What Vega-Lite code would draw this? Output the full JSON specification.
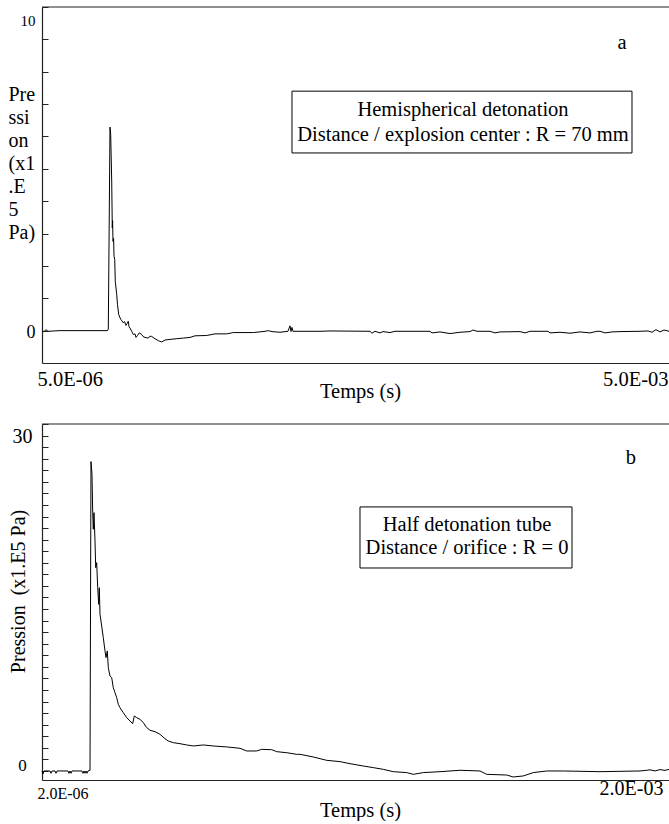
{
  "$schema": "https://vega.github.io/schema/vega-lite/v6.json",
  "padding": {"left": 8, "top": 6, "right": 0, "bottom": 0},
  "spacing": 61,
  "bounds": "flush",
  "config": {
    "font": "Liberation Serif",
    "view": {"stroke": null},
    "axis": {"labelColor": "black", "titleColor": "black", "titleFontWeight": "normal", "grid": false, "domainColor": "#222", "tickColor": "#222", "domainWidth": 1.2, "labelOverlap": false}
  },
  "datasets": {
    "a": [
      {"t": 0.000005, "p": 0}, {"t": 0.0000209, "p": -0.03}, {"t": 0.0000369, "p": 0.03}, {"t": 0.0000528, "p": -0.02},
      {"t": 0.0001484, "p": 0}, {"t": 0.0003077, "p": 0}, {"t": 0.0004671, "p": 0}, {"t": 0.0005268, "p": 0},
      {"t": 0.0005332, "p": 0.05}, {"t": 0.0005467, "p": 6.29}, {"t": 0.0005523, "p": 6.06}, {"t": 0.0005603, "p": 4.62},
      {"t": 0.000565, "p": 3.17}, {"t": 0.0005674, "p": 3.4}, {"t": 0.0005706, "p": 2.76}, {"t": 0.0005754, "p": 2.85},
      {"t": 0.0005786, "p": 2.3}, {"t": 0.0005842, "p": 2.2}, {"t": 0.0005889, "p": 1.52}, {"t": 0.0006001, "p": 1.12},
      {"t": 0.0006065, "p": 0.8}, {"t": 0.000616, "p": 0.5}, {"t": 0.000632, "p": 0.35}, {"t": 0.0006423, "p": 0.3},
      {"t": 0.0006527, "p": 0.24}, {"t": 0.0006622, "p": 0.28}, {"t": 0.0006742, "p": 0.16}, {"t": 0.0006822, "p": 0.22},
      {"t": 0.0006925, "p": 0.29}, {"t": 0.0006981, "p": 0.12}, {"t": 0.0007061, "p": 0.08}, {"t": 0.0007196, "p": -0.02},
      {"t": 0.0007323, "p": -0.12}, {"t": 0.0007459, "p": -0.1}, {"t": 0.0007539, "p": -0.21}, {"t": 0.0007658, "p": -0.15},
      {"t": 0.0007801, "p": -0.07}, {"t": 0.0007993, "p": -0.12}, {"t": 0.0008096, "p": -0.18}, {"t": 0.0008256, "p": -0.21},
      {"t": 0.0008518, "p": -0.23}, {"t": 0.0008654, "p": -0.17}, {"t": 0.0008789, "p": -0.18}, {"t": 0.0009052, "p": -0.25},
      {"t": 0.0009315, "p": -0.31}, {"t": 0.0009586, "p": -0.35}, {"t": 0.0009849, "p": -0.29}, {"t": 0.0010247, "p": -0.27},
      {"t": 0.0010781, "p": -0.25}, {"t": 0.0011307, "p": -0.23}, {"t": 0.001184, "p": -0.21}, {"t": 0.0012239, "p": -0.16},
      {"t": 0.0013171, "p": -0.15}, {"t": 0.0013832, "p": -0.1}, {"t": 0.0014764, "p": -0.1}, {"t": 0.001529, "p": -0.06},
      {"t": 0.0016883, "p": -0.06}, {"t": 0.0017815, "p": -0.02}, {"t": 0.0018078, "p": 0.0}, {"t": 0.0018373, "p": -0.03},
      {"t": 0.001901, "p": -0.05}, {"t": 0.0019648, "p": -0.02}, {"t": 0.0019807, "p": 0.15}, {"t": 0.0019887, "p": -0.03},
      {"t": 0.0019966, "p": 0.1}, {"t": 0.0020046, "p": -0.02}, {"t": 0.0020604, "p": -0.02}, {"t": 0.0022197, "p": -0.02},
      {"t": 0.0022994, "p": -0.01}, {"t": 0.002618, "p": -0.02}, {"t": 0.0026339, "p": -0.08}, {"t": 0.0026578, "p": -0.02},
      {"t": 0.0026977, "p": -0.07}, {"t": 0.0027216, "p": -0.03}, {"t": 0.0027773, "p": -0.06}, {"t": 0.0028172, "p": -0.02},
      {"t": 0.0028809, "p": -0.02}, {"t": 0.003096, "p": -0.02}, {"t": 0.0031119, "p": -0.07}, {"t": 0.0031757, "p": -0.04},
      {"t": 0.0032553, "p": -0.09}, {"t": 0.003335, "p": -0.05}, {"t": 0.0034147, "p": -0.03}, {"t": 0.0034386, "p": 0.02},
      {"t": 0.0034704, "p": -0.02}, {"t": 0.003574, "p": -0.02}, {"t": 0.0036138, "p": -0.07}, {"t": 0.0036537, "p": -0.04},
      {"t": 0.003813, "p": -0.03}, {"t": 0.0038528, "p": -0.07}, {"t": 0.0038927, "p": -0.02}, {"t": 0.0040361, "p": -0.02},
      {"t": 0.004052, "p": -0.07}, {"t": 0.0041317, "p": -0.05}, {"t": 0.0042113, "p": -0.08}, {"t": 0.004291, "p": -0.04},
      {"t": 0.0043706, "p": -0.07}, {"t": 0.0044264, "p": -0.02}, {"t": 0.0044503, "p": -0.02}, {"t": 0.0044901, "p": -0.07},
      {"t": 0.0045459, "p": -0.04}, {"t": 0.0046096, "p": -0.03}, {"t": 0.004769, "p": -0.02}, {"t": 0.0048327, "p": -0.01},
      {"t": 0.0048646, "p": -0.05}, {"t": 0.0048964, "p": 0.03}, {"t": 0.0049283, "p": -0.04}, {"t": 0.0049602, "p": 0.02},
      {"t": 0.005, "p": -0.02}
    ],
    "b": [
      {"t": 0.000002, "p": 0}, {"t": 0.00000519, "p": -0.25}, {"t": 0.00000837, "p": 0}, {"t": 0.00002749, "p": 0},
      {"t": 0.00003068, "p": -0.2}, {"t": 0.00003387, "p": 0}, {"t": 0.00004343, "p": 0}, {"t": 0.00004661, "p": -0.2},
      {"t": 0.0000498, "p": 0}, {"t": 0.00008485, "p": 0}, {"t": 0.00008804, "p": -0.2}, {"t": 0.00009122, "p": 0},
      {"t": 0.00009441, "p": -0.2}, {"t": 0.0000976, "p": 0}, {"t": 0.00012946, "p": 0}, {"t": 0.00013265, "p": -0.2},
      {"t": 0.00013584, "p": 0}, {"t": 0.00013902, "p": -0.2}, {"t": 0.00014221, "p": 0}, {"t": 0.0001454, "p": -0.2},
      {"t": 0.00014858, "p": 0}, {"t": 0.000155, "p": 0.05}, {"t": 0.0001581, "p": 26.75}, {"t": 0.0001613, "p": 25.65},
      {"t": 0.0001636, "p": 22.34}, {"t": 0.0001655, "p": 20.9}, {"t": 0.0001677, "p": 22.34}, {"t": 0.0001709, "p": 19.89},
      {"t": 0.0001731, "p": 17.58}, {"t": 0.0001763, "p": 18.01}, {"t": 0.0001795, "p": 15.85}, {"t": 0.0001827, "p": 14.41},
      {"t": 0.0001846, "p": 15.85}, {"t": 0.0001868, "p": 13.55}, {"t": 0.0001922, "p": 12.54}, {"t": 0.0001973, "p": 11.53},
      {"t": 0.0002028, "p": 10.38}, {"t": 0.0002059, "p": 9.8}, {"t": 0.0002101, "p": 10.38}, {"t": 0.0002133, "p": 8.93},
      {"t": 0.0002187, "p": 8.21}, {"t": 0.0002241, "p": 8.07}, {"t": 0.0002292, "p": 7.2}, {"t": 0.0002346, "p": 6.77},
      {"t": 0.00024, "p": 6.34}, {"t": 0.0002451, "p": 5.77}, {"t": 0.0002506, "p": 5.47}, {"t": 0.0002611, "p": 5.04},
      {"t": 0.0002719, "p": 4.61}, {"t": 0.0002824, "p": 4.32}, {"t": 0.000291, "p": 4.09}, {"t": 0.0002961, "p": 4.76},
      {"t": 0.0003038, "p": 4.61}, {"t": 0.0003143, "p": 4.47}, {"t": 0.0003248, "p": 4.18}, {"t": 0.0003356, "p": 3.75},
      {"t": 0.0003462, "p": 3.52}, {"t": 0.0003621, "p": 3.4}, {"t": 0.000378, "p": 3.17}, {"t": 0.000394, "p": 2.79},
      {"t": 0.0004045, "p": 2.59}, {"t": 0.0004204, "p": 2.45}, {"t": 0.0004418, "p": 2.36}, {"t": 0.0004631, "p": 2.25},
      {"t": 0.0004841, "p": 2.16}, {"t": 0.000516, "p": 2.25}, {"t": 0.0005479, "p": 2.16}, {"t": 0.0005906, "p": 2.08},
      {"t": 0.000633, "p": 1.96}, {"t": 0.0006543, "p": 1.73}, {"t": 0.0006862, "p": 1.73}, {"t": 0.0007021, "p": 1.87},
      {"t": 0.000734, "p": 1.84}, {"t": 0.0007499, "p": 1.67}, {"t": 0.0007818, "p": 1.58}, {"t": 0.0008136, "p": 1.44},
      {"t": 0.0008241, "p": 1.44}, {"t": 0.0008665, "p": 1.21}, {"t": 0.0009092, "p": 0.92}, {"t": 0.0009516, "p": 0.81},
      {"t": 0.0009835, "p": 0.63}, {"t": 0.0010258, "p": 0.43}, {"t": 0.0010577, "p": 0.29}, {"t": 0.0010896, "p": 0.14},
      {"t": 0.0011215, "p": -0.06}, {"t": 0.0011641, "p": -0.14}, {"t": 0.0011852, "p": -0.29}, {"t": 0.001217, "p": -0.14},
      {"t": 0.0012703, "p": -0.06}, {"t": 0.001334, "p": 0.06}, {"t": 0.0013977, "p": 0}, {"t": 0.0014191, "p": -0.29},
      {"t": 0.0014828, "p": -0.35}, {"t": 0.0015038, "p": -0.52}, {"t": 0.0015357, "p": -0.43}, {"t": 0.0015676, "p": -0.14},
      {"t": 0.0016103, "p": 0}, {"t": 0.0016632, "p": 0}, {"t": 0.0017801, "p": -0.06}, {"t": 0.0019076, "p": 0},
      {"t": 0.0019289, "p": 0.06}, {"t": 0.0019395, "p": 0.1}, {"t": 0.0019554, "p": 0}, {"t": 0.0019713, "p": 0.12},
      {"t": 0.0019873, "p": 0.05}, {"t": 0.002, "p": 0.14}
    ]
  },
  "vconcat": [
    {
      "width": 627,
      "height": 356,
      "layer": [
        {
          "data": {"name": "a"},
          "mark": {"type": "line", "color": "black", "strokeWidth": 1},
          "encoding": {
            "x": {
              "field": "t", "type": "quantitative",
              "scale": {"domain": [0.000005, 0.005], "nice": false, "zero": false},
              "axis": {
                "values": [0.000005, 0.005],
                "labelExpr": "datum.value < 0.001 ? '5.0E-06' : '5.0E-03'",
                "ticks": false, "labelFlush": true, "labelFontSize": 20.5, "labelPadding": 6, "labelBaseline": "top",
                "labelOffset": {"condition": {"test": "datum.value < 0.001", "value": -5}, "value": -1},
                "title": "Temps (s)", "titleFontSize": 20.5, "titleX": 318, "titleY": 18, "titleBaseline": "top", "titleAlign": "center"
              }
            },
            "y": {
              "field": "p", "type": "quantitative",
              "scale": {"domain": [-1, 10], "nice": false, "zero": false},
              "axis": {
                "values": [0, 1, 2, 3, 4, 5, 6, 7, 8, 9, 10],
                "tickCount": 100,
                "labelExpr": "datum.value == 0 ? '0' : (datum.value == 10 ? '10' : '')",
                "tickSize": -6, "tickWidth": 1, "labelPadding": 13, "labelAlign": "right", "labelBaseline": "middle",
                "labelFontSize": {"condition": {"test": "datum.value == 10", "value": 15}, "value": 18},
                "labelOffset": {"condition": {"test": "datum.value == 10", "value": 13}, "value": 2},
                "title": ["Pre", "ssi", "on", "(x1", ".E", "5", "Pa)"],
                "titleAngle": 0, "titleAlign": "left", "titleBaseline": "top", "titleX": -34, "titleY": 77,
                "titleFontSize": 20, "titleLineHeight": 23
              }
            }
          }
        },
        {
          "data": {"values": [{}]},
          "mark": {"type": "rule", "color": "#222", "strokeWidth": 1.2},
          "encoding": {"y": {"datum": 10}}
        },
        {
          "data": {"values": [{}]},
          "mark": {"type": "rect", "fill": "white", "stroke": "black", "strokeWidth": 1},
          "encoding": {"x": {"datum": 0.0019966}, "x2": {"datum": 0.0047052}, "y": {"datum": 7.4}, "y2": {"datum": 5.49}}
        },
        {
          "data": {"values": [{}]},
          "mark": {"type": "text", "text": ["Hemispherical detonation", "Distance / explosion center : R = 70 mm"], "align": "center", "baseline": "middle", "fontSize": 20.5, "lineHeight": 25, "color": "black"},
          "encoding": {"x": {"datum": 0.0033589}, "y": {"datum": 6.83}}
        },
        {
          "data": {"values": [{}]},
          "mark": {"type": "text", "text": "a", "align": "center", "baseline": "middle", "fontSize": 20.5, "color": "black"},
          "encoding": {"x": {"datum": 0.0046256}, "y": {"datum": 8.89}}
        }
      ]
    },
    {
      "width": 627,
      "height": 356,
      "layer": [
        {
          "data": {"name": "b"},
          "mark": {"type": "line", "color": "black", "strokeWidth": 1},
          "encoding": {
            "x": {
              "field": "t", "type": "quantitative",
              "scale": {"domain": [0.000002, 0.002], "nice": false, "zero": false},
              "axis": {
                "values": [0.000002, 0.002],
                "labelExpr": "datum.value < 0.001 ? '2.0E-06' : '2.0E-03'",
                "ticks": false, "labelFlush": true, "labelBaseline": "top",
                "labelFontSize": {"condition": {"test": "datum.value < 0.001", "value": 16}, "value": 20},
                "labelPadding": {"condition": {"test": "datum.value < 0.001", "value": 5}, "value": -2},
                "labelOffset": {"condition": {"test": "datum.value < 0.001", "value": -5}, "value": -6},
                "title": "Temps (s)", "titleFontSize": 20.5, "titleX": 318, "titleY": 20, "titleBaseline": "top", "titleAlign": "center"
              }
            },
            "y": {
              "field": "p", "type": "quantitative",
              "scale": {"domain": [-0.78, 30], "nice": false, "zero": false},
              "axis": {
                "values": [0, 1, 2, 3, 4, 5, 6, 7, 8, 9, 10, 11, 12, 13, 14, 15, 16, 17, 18, 19, 20, 21, 22, 23, 24, 25, 26, 27, 28, 29, 30],
                "tickCount": 100,
                "labelExpr": "datum.value == 0 ? '0' : (datum.value == 30 ? '30' : '')",
                "tickSize": -6, "tickWidth": 1, "labelPadding": 26, "labelAlign": "center", "labelBaseline": "middle",
                "labelFontSize": {"condition": {"test": "datum.value == 30", "value": 20}, "value": 17},
                "labelOffset": {"condition": {"test": "datum.value == 30", "value": 12}, "value": -5},
                "title": "Pression\u00a0 (x1.E5 Pa)",
                "titleAngle": 270, "titleAlign": "center", "titleBaseline": "middle", "titleX": -24, "titleY": 167,
                "titleFontSize": 20
              }
            }
          }
        },
        {
          "data": {"values": [{}]},
          "mark": {"type": "rule", "color": "#222", "strokeWidth": 1.2},
          "encoding": {"y": {"datum": 30}}
        },
        {
          "data": {"values": [{}]},
          "mark": {"type": "rect", "fill": "white", "stroke": "black", "strokeWidth": 1},
          "encoding": {"x": {"datum": 0.0010153}, "x2": {"datum": 0.0016909}, "y": {"datum": 22.83}, "y2": {"datum": 17.55}}
        },
        {
          "data": {"values": [{}]},
          "mark": {"type": "text", "text": ["Half detonation tube", "Distance / orifice : R = 0"], "align": "center", "baseline": "middle", "fontSize": 20.5, "lineHeight": 23, "color": "black"},
          "encoding": {"x": {"datum": 0.0013563}, "y": {"datum": 21.31}}
        },
        {
          "data": {"values": [{}]},
          "mark": {"type": "text", "text": "b", "align": "center", "baseline": "middle", "fontSize": 20.5, "color": "black"},
          "encoding": {"x": {"datum": 0.0018789}, "y": {"datum": 27.06}}
        }
      ]
    }
  ]
}
